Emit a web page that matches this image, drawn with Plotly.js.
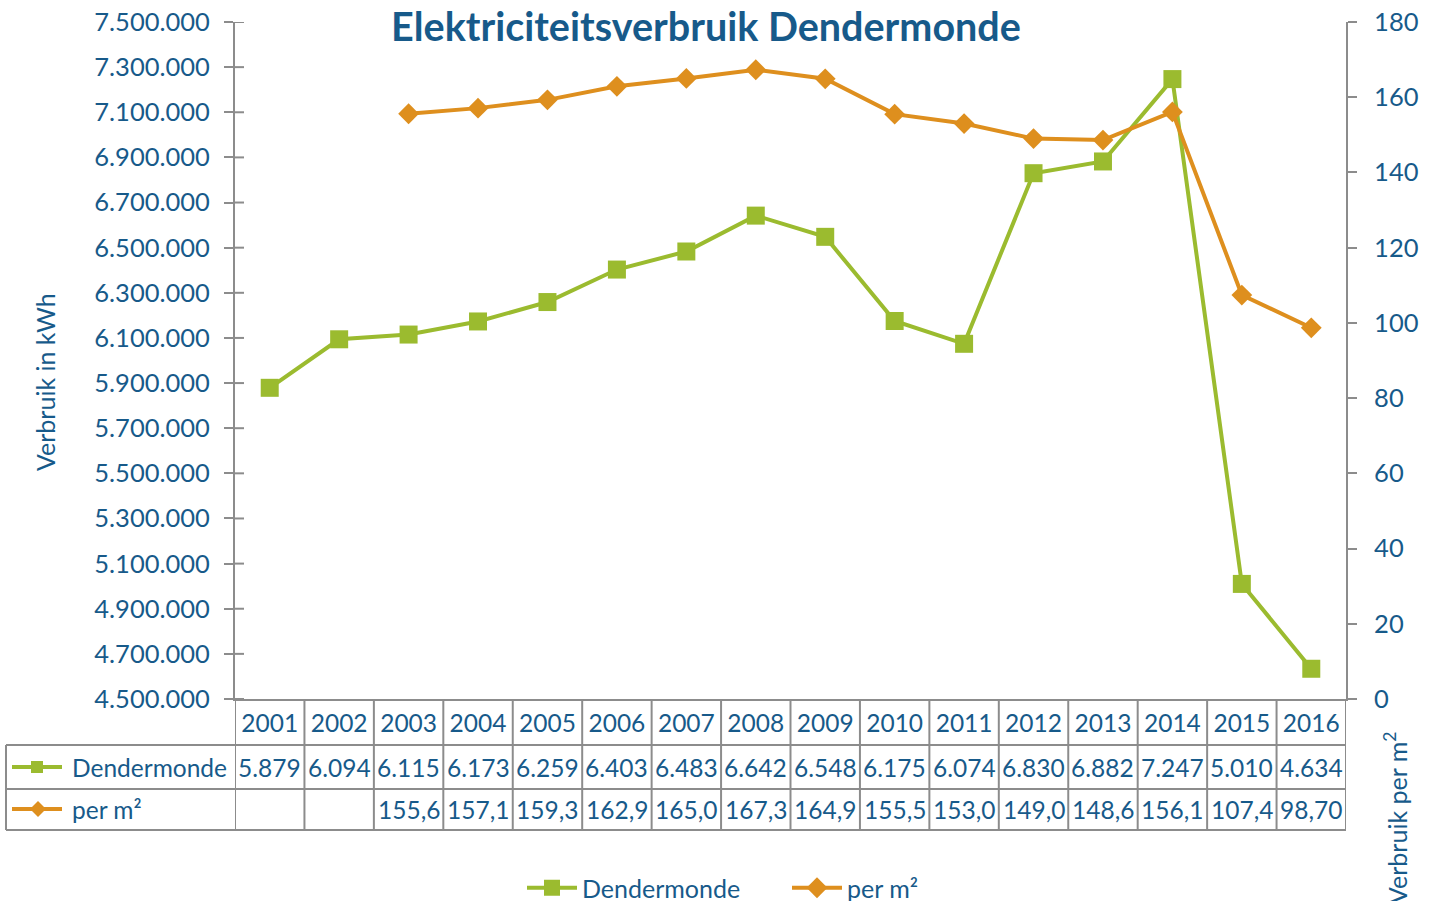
<!DOCTYPE html>
<html>
<head>
<meta charset="utf-8">
<script src="https://cdn.plot.ly/plotly-3.0.1.min.js"></script>
<style>html,body{margin:0;padding:0;background:#fff;}#chart{width:1432px;height:901px;}</style>
</head>
<body>
<div id="chart"></div>
<script>
const years = [2001,2002,2003,2004,2005,2006,2007,2008,2009,2010,2011,2012,2013,2014,2015,2016];
const dendermonde = [5879000,6094000,6115000,6173000,6259000,6403000,6483000,6642000,6548000,6175000,6074000,6830000,6882000,7247000,5010000,4634000];
const perM2 = [null,null,155.6,157.1,159.3,162.9,165.0,167.3,164.9,155.5,153.0,149.0,148.6,156.1,107.4,98.70];
const dendermondeLabels = ["5.879","6.094","6.115","6.173","6.259","6.403","6.483","6.642","6.548","6.175","6.074","6.830","6.882","7.247","5.010","4.634"];
const perM2Labels = ["","","155,6","157,1","159,3","162,9","165,0","167,3","164,9","155,5","153,0","149,0","148,6","156,1","107,4","98,70"];
const leftTicks = [4500000,4700000,4900000,5100000,5300000,5500000,5700000,5900000,6100000,6300000,6500000,6700000,6900000,7100000,7300000,7500000];
const leftTickText = ["4.500.000","4.700.000","4.900.000","5.100.000","5.300.000","5.500.000","5.700.000","5.900.000","6.100.000","6.300.000","6.500.000","6.700.000","6.900.000","7.100.000","7.300.000","7.500.000"];

const GREEN = '#9BBB2F', ORANGE = '#DE8F1E', BLUE = '#175A8A', GRID = '#8C8C8C';
const FONT = 'Lato, "Open Sans", sans-serif';
const FS = 24.5;

const traces = [
  {x: years, y: perM2, yaxis: 'y2', name: 'per m²', mode: 'lines+markers', legendrank: 2,
   line: {color: ORANGE, width: 4}, marker: {symbol: 'diamond', size: 16, color: ORANGE}, connectgaps: false},
  {x: years, y: dendermonde, name: 'Dendermonde', mode: 'lines+markers', legendrank: 1,
   line: {color: GREEN, width: 4}, marker: {symbol: 'square', size: 18, color: GREEN}}
];

const plotH = 677; // 699-22
const py = px => (699 - px) / plotH;
const pxX = px => (px - 235) / 1111;
const yHead = py(745), yRow1 = py(789), yRow2 = py(830);
const lineStyle = {color: GRID, width: 2};
const shapes = [];
[yHead, yRow1, yRow2].forEach(y => shapes.push({type:'line', xref:'paper', yref:'paper', x0:pxX(6), x1:1, y0:y, y1:y, line:lineStyle}));
for (let i = 0; i <= years.length; i++) {
  const xb = (i === 0 ? years[0] - 0.5 : years[i-1] + 0.5);
  shapes.push({type:'line', xref:'x', yref:'paper', x0:xb, x1:xb, y0:0, y1:yRow2, line:lineStyle});
}
shapes.push({type:'line', xref:'paper', yref:'paper', x0:pxX(6), x1:pxX(6), y0:yHead, y1:yRow2, line:lineStyle});
leftTicks.forEach(t => shapes.push({type:'line', xref:'paper', yref:'y', x0:0, x1:pxX(244), y0:t, y1:t, line:lineStyle}));

function keyLine(cx, cy, color) {
  shapes.push({type:'line', xref:'paper', yref:'paper', x0:pxX(cx-25), x1:pxX(cx+25), y0:py(cy), y1:py(cy), line:{color:color, width:4}});
}
keyLine(37, 767, GREEN);
shapes.push({type:'rect', xref:'paper', yref:'paper', x0:pxX(31), x1:pxX(43), y0:py(761), y1:py(773), fillcolor:GREEN, line:{width:0}});
keyLine(37, 809, ORANGE);
{
  const cx = 38, cy = 809, r = 8;
  shapes.push({type:'path', xref:'paper', yref:'paper', fillcolor:ORANGE, line:{width:0},
    path:`M ${pxX(cx-r)} ${py(cy)} L ${pxX(cx)} ${py(cy-r)} L ${pxX(cx+r)} ${py(cy)} L ${pxX(cx)} ${py(cy+r)} Z`});
}

const annotations = [];
years.forEach((yr, i) => {
  annotations.push({x: yr, xref:'x', y: py(767), yref:'paper', text: dendermondeLabels[i], showarrow:false, font:{family:FONT, size:FS, color:BLUE}, xanchor:'center', yanchor:'middle'});
  if (perM2Labels[i]) annotations.push({x: yr, xref:'x', y: py(809), yref:'paper', text: perM2Labels[i], showarrow:false, font:{family:FONT, size:FS, color:BLUE}, xanchor:'center', yanchor:'middle'});
});
annotations.push({x: pxX(70), xref:'paper', y: py(767), yref:'paper', text:'Dendermonde', showarrow:false, xanchor:'left', yanchor:'middle', font:{family:FONT, size:FS, color:BLUE}});
annotations.push({x: pxX(70), xref:'paper', y: py(809), yref:'paper', text:'per m²', showarrow:false, xanchor:'left', yanchor:'middle', font:{family:FONT, size:FS, color:BLUE}});
annotations.push({x: pxX(45), xref:'paper', y: py(382), yref:'paper', text:'Verbruik in kWh', textangle:-90, showarrow:false, xanchor:'center', yanchor:'middle', font:{family:FONT, size:25, color:BLUE}});
annotations.push({x: pxX(1395), xref:'paper', y: py(818), yref:'paper', text:'Verbruik per m<sup>2</sup>', textangle:-90, showarrow:false, xanchor:'center', yanchor:'middle', font:{family:FONT, size:25, color:BLUE}});

const layout = {
  width: 1432, height: 901,
  margin: {l:235, r:86, t:22, b:202, autoexpand:false},
  paper_bgcolor:'#fff', plot_bgcolor:'#fff',
  title: {text:'<b>Elektriciteitsverbruik Dendermonde</b>', x: pxX(706), xanchor:'center', xref:'paper', y: 1 - 27/901, yanchor:'middle', yref:'container', font:{family:FONT, size:39.5, color:BLUE}},
  font: {family: FONT, color: BLUE},
  showlegend: true,
  legend: {orientation:'h', x: pxX(522), xanchor:'left', y: py(888), yanchor:'middle', entrywidth:200, entrywidthmode:'pixels',
    font:{family:FONT, size:25, color:BLUE}, itemwidth:50, bgcolor:'rgba(0,0,0,0)'},
  xaxis: {type:'linear', range:[2000.5, 2016.5], tickmode:'array', tickvals: years, ticktext: years.map(String),
    showgrid:false, zeroline:false, showline:true, linecolor:GRID, linewidth:2, ticks:'', ticklabelstandoff:2,
    tickfont:{family:FONT, size:FS, color:BLUE}, fixedrange:true},
  yaxis: {range:[4500000, 7500000], tickmode:'array', tickvals:leftTicks, ticktext:leftTickText,
    showgrid:false, zeroline:false, showline:true, linecolor:GRID, linewidth:2, ticks:'outside', ticklen:9, tickwidth:2, tickcolor:GRID,
    tickfont:{family:FONT, size:25.5, color:BLUE}, ticklabelstandoff:9},
  yaxis2: {overlaying:'y', side:'right', range:[0,180], dtick:20, tick0:0,
    showgrid:false, zeroline:false, showline:true, linecolor:GRID, linewidth:2, ticks:'outside', ticklen:9, tickwidth:2, tickcolor:GRID,
    tickfont:{family:FONT, size:25.5, color:BLUE}, ticklabelstandoff:12},
  shapes: shapes,
  annotations: annotations
};
Plotly.newPlot('chart', traces, layout, {displayModeBar:false, staticPlot:true});
</script>
</body>
</html>
